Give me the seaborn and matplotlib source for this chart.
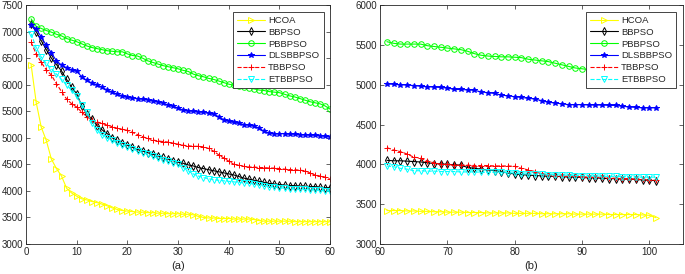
import numpy as np
import pandas as pd
import seaborn as sns
from matplotlib import pyplot as plt

sns.set_style('ticks')
plt.rcParams['font.family'] = ['Liberation Sans', 'DejaVu Sans']

# ---- data ----
iter_a = list(range(1, 61))
iter_b = list(range(61, 102))

hcoa_a = [6380, 5670, 5200, 4950, 4600, 4420, 4280, 4050, 3960, 3900,
          3850, 3830, 3800, 3780, 3750, 3720, 3680, 3650, 3630, 3620,
          3610, 3600, 3600, 3590, 3590, 3580, 3580, 3570, 3570, 3570,
          3560, 3560, 3550, 3520, 3500, 3490, 3490, 3480, 3480, 3480,
          3470, 3470, 3470, 3470, 3460, 3440, 3430, 3430, 3430, 3430,
          3430, 3430, 3420, 3420, 3420, 3420, 3420, 3420, 3420, 3420]
bbpso_a = [7140, 7000, 6830, 6660, 6500, 6380, 6260, 6100, 5950, 5830,
           5600, 5450, 5350, 5230, 5150, 5080, 5000, 4950, 4900, 4860,
           4820, 4780, 4750, 4720, 4690, 4660, 4630, 4600, 4570, 4540,
           4520, 4490, 4470, 4440, 4420, 4400, 4380, 4360, 4340, 4320,
           4300, 4270, 4240, 4220, 4200, 4180, 4160, 4140, 4130, 4120,
           4110, 4100, 4100, 4090, 4090, 4080, 4080, 4070, 4060, 4060]
pbbpso_a = [7240, 7100, 7060, 7020, 6990, 6950, 6920, 6870, 6840, 6810,
            6770, 6730, 6700, 6680, 6660, 6640, 6630, 6620, 6620, 6580,
            6550, 6540, 6500, 6450, 6420, 6390, 6360, 6340, 6320, 6300,
            6270, 6250, 6200, 6170, 6150, 6120, 6100, 6070, 6040, 6010,
            5990, 5970, 5950, 5940, 5920, 5900, 5890, 5870, 5860, 5850,
            5820, 5790, 5770, 5740, 5710, 5680, 5660, 5640, 5600, 5540]
dls_a = [7130, 7050, 6900, 6740, 6600, 6450, 6370, 6320, 6280, 6250,
         6150, 6080, 6030, 6000, 5950, 5900, 5860, 5820, 5790, 5760,
         5750, 5740, 5730, 5720, 5700, 5680, 5650, 5620, 5590, 5560,
         5520, 5510, 5500, 5490, 5480, 5460, 5440, 5400, 5340, 5310,
         5290, 5270, 5250, 5240, 5220, 5180, 5120, 5090, 5080, 5080,
         5080, 5070, 5070, 5060, 5060, 5050, 5050, 5040, 5030, 5020]
tbbpso_a = [6800, 6580, 6420, 6280, 6180, 6020, 5870, 5730, 5640, 5580,
            5480, 5400, 5330, 5300, 5270, 5240, 5210, 5180, 5160, 5140,
            5100, 5060, 5020, 4990, 4960, 4940, 4930, 4920, 4900, 4880,
            4860, 4850, 4840, 4840, 4830, 4800, 4750, 4680, 4620, 4560,
            4500, 4480, 4460, 4450, 4450, 4440, 4440, 4430, 4430, 4420,
            4410, 4400, 4400, 4390, 4380, 4340, 4300, 4280, 4260, 4220]
etbbpso_a = [6960, 6700, 6520, 6400, 6300, 6200, 6100, 6000, 5900, 5780,
             5620, 5480, 5280, 5150, 5060, 5000, 4950, 4900, 4860, 4830,
             4790, 4750, 4720, 4690, 4650, 4620, 4590, 4560, 4530, 4500,
             4440, 4380, 4320, 4280, 4250, 4230, 4210, 4200, 4190, 4180,
             4170, 4160, 4150, 4140, 4130, 4110, 4100, 4080, 4070, 4060,
             4050, 4040, 4040, 4030, 4030, 4020, 4020, 4010, 4000, 4000]

hcoa_b = [3420, 3420, 3420, 3415, 3415, 3410, 3410, 3405, 3405, 3400,
          3400, 3400, 3395, 3395, 3395, 3390, 3390, 3390, 3390, 3385,
          3385, 3385, 3385, 3380, 3380, 3380, 3380, 3380, 3375, 3375,
          3375, 3375, 3375, 3370, 3370, 3370, 3370, 3370, 3365, 3360, 3330]
bbpso_b = [4050, 4045, 4045, 4040, 4035, 4030, 4020, 4010, 4005, 4000,
           3995, 3990, 3960, 3950, 3940, 3930, 3920, 3910, 3890, 3880,
           3870, 3865, 3860, 3855, 3850, 3850, 3845, 3840, 3840, 3835,
           3830, 3830, 3825, 3820, 3820, 3815, 3815, 3810, 3805, 3800, 3795]
pbbpso_b = [5540, 5520, 5510, 5510, 5510, 5510, 5490, 5480, 5470, 5460,
            5450, 5440, 5420, 5390, 5370, 5360, 5355, 5350, 5350, 5345,
            5340, 5320, 5310, 5300, 5290, 5270, 5250, 5230, 5210, 5200,
            5190, 5180, 5170, 5165, 5160, 5155, 5150, 5145, 5140, 5135, 5130]
dls_b = [5010, 5005, 5000, 4995, 4990, 4980, 4975, 4970, 4965, 4960,
         4940, 4940, 4935, 4930, 4910, 4900, 4890, 4870, 4860, 4850,
         4840, 4830, 4820, 4800, 4780, 4770, 4760, 4750, 4750, 4750,
         4745, 4745, 4745, 4740, 4740, 4730, 4720, 4715, 4710, 4710, 4710]
tbbpso_b = [4210, 4180, 4160, 4130, 4090, 4080, 4040, 4020, 4000, 4000,
            3990, 3990, 3990, 3985, 3985, 3985, 3980, 3980, 3980, 3975,
            3950, 3930, 3910, 3880, 3870, 3860, 3855, 3850, 3850, 3845,
            3840, 3840, 3835, 3830, 3825, 3820, 3820, 3815, 3810, 3805, 3800]
etbbpso_b = [3980, 3970, 3950, 3940, 3920, 3920, 3915, 3915, 3910, 3910,
             3910, 3905, 3905, 3905, 3900, 3900, 3900, 3900, 3895, 3890,
             3880, 3880, 3875, 3875, 3870, 3870, 3865, 3865, 3860, 3860,
             3855, 3855, 3850, 3850, 3850, 3845, 3845, 3840, 3840, 3840, 3840]

names = ['HCOA', 'BBPSO', 'PBBPSO', 'DLSBBPSO', 'TBBPSO', 'ETBBPSO']
series_a = [hcoa_a, bbpso_a, pbbpso_a, dls_a, tbbpso_a, etbbpso_a]
series_b = [hcoa_b, bbpso_b, pbbpso_b, dls_b, tbbpso_b, etbbpso_b]

# style per algorithm (matlab-ish)
styles = {
    'HCOA':     dict(color='#FFFF00', marker='>', ls='-',  mfc='none', ms=4.0),
    'BBPSO':    dict(color='#000000', marker='d', ls='-',  mfc='none', ms=4.2),
    'PBBPSO':   dict(color='#00FF00', marker='o', ls='-',  mfc='none', ms=4.0),
    'DLSBBPSO': dict(color='#0000FF', marker='*', ls='-',  mfc='#0000FF', ms=4.2),
    'TBBPSO':   dict(color='#FF0000', marker='+', ls='--', mfc='#FF0000', ms=5.0),
    'ETBBPSO':  dict(color='#00FFFF', marker='v', ls='--', mfc='none', ms=4.0),
}


def long_df(x, ys):
    rows = []
    for n, y in zip(names, ys):
        rows.append(pd.DataFrame({'iter': x, 'val': y, 'algo': n}))
    return pd.concat(rows, ignore_index=True)


df_a = long_df(iter_a, series_a)
df_b = long_df(iter_b, series_b)

fig = plt.figure(figsize=(6.85, 2.74), dpi=100)
ax1 = fig.add_axes([0.038, 0.1095, 0.444, 0.872])
ax2 = fig.add_axes([0.555, 0.1095, 0.442, 0.872])


def draw(ax, df):
    for n in names:
        st = styles[n]
        sns.lineplot(data=df[df['algo'] == n], x='iter', y='val', ax=ax,
                     color=st['color'], linestyle=st['ls'], linewidth=0.8,
                     marker=st['marker'], markersize=st['ms'], markerfacecolor=st['mfc'],
                     markeredgecolor=st['color'], markeredgewidth=0.7, label=n)
    ax.set_xlabel('')
    ax.set_ylabel('')
    for s in ax.spines.values():
        s.set_color('#262626')
        s.set_linewidth(0.6)
    ax.tick_params(direction='in', length=3, width=0.5, labelsize=7,
                   top=True, right=True, colors='#262626', pad=2)
    leg = ax.legend(loc='upper right', fontsize=6.8, frameon=True, fancybox=False,
                    edgecolor='#262626', handlelength=3.0, borderpad=0.45,
                    labelspacing=0.3, handletextpad=0.3, borderaxespad=0.7,
                    framealpha=1)
    leg.get_frame().set_linewidth(0.6)


draw(ax1, df_a)
ax1.set_xlim(0, 60)
ax1.set_ylim(3000, 7500)
ax1.set_xticks(range(0, 61, 10))
ax1.set_yticks(range(3000, 7501, 500))

draw(ax2, df_b)
ax2.set_xlim(60, 105)
ax2.set_ylim(3000, 6000)
ax2.set_xticks(range(60, 101, 10))
ax2.set_yticks(range(3000, 6001, 500))

fig.text(0.26, 0.02, '(a)', ha='center', fontsize=8, color='#262626')
fig.text(0.776, 0.02, '(b)', ha='center', fontsize=8, color='#262626')

fig.savefig('out.png', dpi=100)
